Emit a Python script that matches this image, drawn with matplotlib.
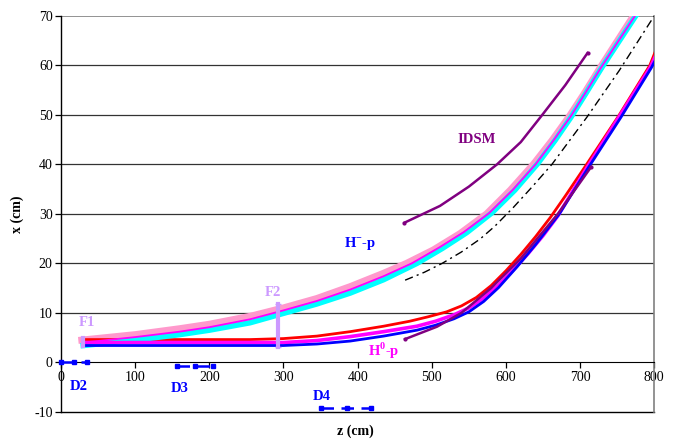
import numpy as np
import matplotlib
matplotlib.use("Agg")
from matplotlib import pyplot as plt

plt.rcParams['font.family'] = ['Liberation Serif', 'DejaVu Serif']
plt.rcParams['axes.unicode_minus'] = False
plt.rcParams['mathtext.fontset'] = 'custom'
plt.rcParams['mathtext.rm'] = 'Liberation Serif:bold'
plt.rcParams['mathtext.bf'] = 'Liberation Serif:bold'

# H- beam envelopes (z in cm, x in cm)
zPink = [28, 100, 160, 200, 255, 300, 345, 390, 435, 466, 502, 538, 574, 606, 637,
         662, 685, 706, 727, 772, 778]
xPink = [4.5, 5.6, 6.8, 7.7, 9.3, 11.0, 12.9, 15.3, 18.0, 20.0, 22.7, 26.0, 30, 34.8, 40,
         44.8, 49.6, 54.4, 59.5, 70, 71.3]
zCyan = [30, 100, 160, 200, 255, 300, 345, 390, 435, 480, 514, 547, 581, 612, 642,
         666, 688, 708, 729, 775, 782]
xCyan = [3.4, 4.5, 5.6, 6.5, 8.0, 9.9, 11.8, 14.0, 16.7, 20.0, 23.0, 26.2, 30.2, 34.8, 40,
         44.8, 49.6, 54.4, 59.5, 70, 71.3]
zMagU = [30, 100, 160, 200, 255, 300, 345, 390, 435, 473, 510, 543, 577, 609, 640,
         664, 687, 707, 728, 774, 780]
xMagU = [4.0, 5.1, 6.2, 7.1, 8.7, 10.5, 12.4, 14.7, 17.4, 20.0, 23.2, 26.3, 30.1, 34.8, 40,
         44.8, 49.6, 54.4, 59.5, 70, 71.3]

# H0 beam envelopes
zRed = [30, 150, 255, 300, 345, 390, 435, 470, 495, 520, 540, 560, 580, 600, 620, 640,
        660, 680, 707, 752, 794, 802]
xRed = [4.6, 4.6, 4.6, 4.8, 5.3, 6.2, 7.3, 8.3, 9.2, 10.2, 11.4, 13.1, 15.5, 18.5, 21.8, 25.4,
        29.3, 33.6, 39.6, 49.8, 60, 63]
zMagL = [30, 300, 345, 390, 435, 480, 505, 530, 550, 570, 590, 610, 630, 650, 670,
         709, 753, 795, 802]
xMagL = [4.0, 4.0, 4.4, 5.2, 6.2, 7.3, 8.3, 9.6, 11.0, 13.0, 15.6, 18.7, 22.0, 25.6, 29.6,
         39.3, 49.7, 59.7, 62.0]
zBlue = [30, 300, 345, 390, 435, 480, 505, 530, 550, 570, 590, 615, 640, 672, 711,
         755, 796, 802]
xBlue = [3.4, 3.4, 3.7, 4.3, 5.3, 6.5, 7.5, 8.8, 10.2, 12.3, 15.1, 19.3, 23.8, 30, 39.3,
         49.5, 59.5, 61.2]

# dash-dot reference
zDash = [464, 490, 514, 540, 565, 585, 610, 635, 662, 709, 753, 794, 801]
xDash = [16.6, 18.2, 20, 22.3, 24.9, 27.5, 31.3, 35.4, 40, 49.5, 59, 68.6, 70.2]

# IDSM
zIdsmU = [463, 511, 550, 588, 620, 649, 680, 710]
xIdsmU = [28.2, 31.6, 35.5, 40, 44.5, 50, 56, 62.5]
zIdsmL = [464, 507, 540, 580, 620, 670, 715]
xIdsmL = [4.7, 7.2, 10, 15, 21, 30, 39.5]

# dipoles
zD2 = [0, 17, 35]
xD2 = [0, 0, 0]
zD3 = [157, 181, 205]
xD3 = [-0.8, -0.8, -0.8]
zD4 = [350, 385, 418]
xD4 = [-9.2, -9.2, -9.2]

# foils
zF1 = [30, 30]
xF1 = [3.3, 4.9]
zF2 = [292, 292]
xF2 = [3.1, 11.8]

fig = plt.figure(figsize=(6.78, 4.4), dpi=100)
ax = fig.add_axes([0.090, 0.064, 0.875, 0.900])
ax.set_xlim(0, 800)
ax.set_ylim(-10, 70)

for y in range(10, 70, 10):
    ax.axhline(y, color='#333333', lw=0.9, zorder=1)
ax.axhline(70, color='#808080', lw=1.2, zorder=1)
ax.axhline(-10, color='black', lw=1.0, zorder=1, clip_on=False)

ax.plot(zPink, xPink, color='#FF99CC', lw=5, zorder=3)
ax.plot(zCyan, xCyan, color='#0000FF', lw=1.0, zorder=3)
ax.plot(zCyan, xCyan, color='#00FFFF', lw=4, zorder=4)
ax.plot(zMagU, xMagU, color='#FF00FF', lw=1.3, zorder=5)

ax.plot(zRed, xRed, color='#FF0000', lw=2.0, zorder=3)
ax.plot(zMagL, xMagL, color='#FF00FF', lw=2.6, zorder=4)
ax.plot(zBlue, xBlue, color='#0000FF', lw=2.0, zorder=5)

ax.plot(zDash, xDash, color='black', lw=1.0, dashes=(6, 3, 1.5, 3), zorder=3)
ax.plot(zIdsmU, xIdsmU, color='#800080', lw=1.8, marker='o', ms=2, markevery=[0, -1], zorder=3)
ax.plot(zIdsmL, xIdsmL, color='#800080', lw=1.8, marker='o', ms=2, markevery=[0, -1], zorder=6)

ax.plot(zF1, xF1, color='#CC99FF', lw=3, zorder=6)
ax.plot(zF2, xF2, color='#CC99FF', lw=3, marker='_', ms=5, zorder=6)

for zz, xx in [(zD2, xD2), (zD3, xD3), (zD4, xD4)]:
    ax.plot(zz, xx, color='#0000FF', lw=1.8, dashes=(5, 3), marker='s', ms=3.5,
            zorder=6, clip_on=False)

bold = dict(fontweight='bold', fontsize=10.5, ha='center', va='center', zorder=10)
ax.text(35, 8.0, 'F1', color='#CC99FF', **bold)
ax.text(286, 14.2, 'F2', color='#CC99FF', **bold)
ax.text(24, -4.8, 'D2', color='#0000FF', **bold)
ax.text(160, -5.2, 'D3', color='#0000FF', **bold)
ax.text(352, -7.0, 'D4', color='#0000FF', **bold)
ax.text(403, 23.9, r'H$^{-}$-p', color='#0000FF', **bold)
ax.text(435, 2.3, r'H$^{0}$-p', color='#FF00FF', **bold)
ax.text(561, 45.0, 'IDSM', color='#800080', **bold)

ax.spines['top'].set_visible(False)
ax.spines['right'].set_color('#808080')
ax.spines['right'].set_linewidth(1.2)
ax.spines['bottom'].set_position(('data', 0))
ax.spines['left'].set_linewidth(1.0)
ax.set_xticks(range(0, 801, 100))
ax.set_yticks(range(-10, 71, 10))
ax.tick_params(axis='both', direction='out', length=4, width=0.9, labelsize=10, pad=2)
ax.set_xlabel('z (cm)', fontweight='bold', fontsize=10)
ax.xaxis.set_label_coords(0.497, -0.033)
ax.set_ylabel('x (cm)', fontweight='bold', fontsize=10)
ax.yaxis.set_label_coords(-0.063, 0.5)

fig.savefig('out.png', dpi=100)
